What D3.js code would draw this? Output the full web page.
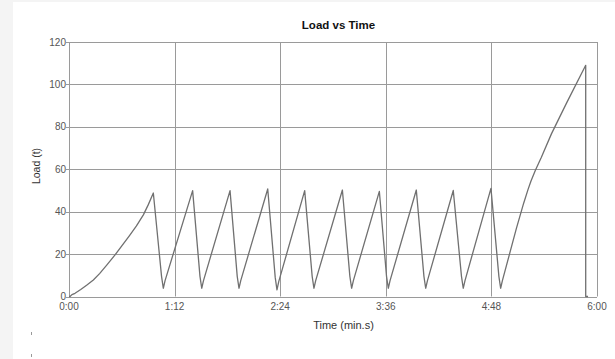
<!DOCTYPE html>
<html>
<head>
<meta charset="utf-8">
<script src="https://cdn.jsdelivr.net/npm/d3@7"></script>
<style>
  html, body { margin: 0; padding: 0; background: #f4f4f4; }
  svg { display: block; }
</style>
</head>
<body>
<svg id="chart" width="615" height="359"></svg>
<script>
// Load test record: time in seconds, load in tonnes
const timeSec = [
  0, 0.7, 2, 4.1, 8, 12, 16.6, 21, 26, 31.4, 36, 41, 46, 50.7, 54, 57.5,
  63.1, 64.3, 65.5,
  84.3, 89.3, 90.5, 91.7,
  109.8, 114.7, 115.9, 117.1,
  135.5, 140.6, 141.8, 143.0,
  160.7, 165.8, 167.0, 168.2,
  186.4, 191.5, 192.7, 193.9,
  211.6, 216.5, 217.7, 218.9,
  236.8, 242.0, 243.2, 244.4,
  262.0, 267.6, 268.8, 270.0,
  287.7, 293.1, 294.3, 295.5,
  305, 310, 313, 315, 318, 322, 329, 339.3, 352.3,
  352.3, 353.9
];
const loadT = [
  0, 0, 0.9, 1.5, 3.3, 5.3, 7.8, 10.9, 15.0, 19.6, 23.9, 28.5, 33.3, 38.5, 43.2, 48.8,
  9.5, 3.9, 7.5,
  49.9, 9.5, 3.9, 7.5,
  49.9, 9.5, 3.9, 7.5,
  50.7, 9.0, 3.1, 7.0,
  49.9, 9.5, 3.9, 7.5,
  50.2, 9.5, 3.9, 7.5,
  49.6, 9.5, 3.9, 7.5,
  50.2, 9.5, 3.9, 7.5,
  50.0, 9.5, 3.9, 7.5,
  51.0, 9.5, 3.9, 7.5,
  32, 44, 50.5, 54.5, 59.5, 65.5, 76.8, 91.3, 109,
  0, 0
];

const yTicks = [0, 20, 40, 60, 80, 100, 120];
const xTicks = [0, 72, 144, 216, 288, 360];
const xTickLabels = ["0:00", "1:12", "2:24", "3:36", "4:48", "6:00"];

const chartTitle = "Load vs Time";
const xTitle = "Time (min.s)";
const yTitle = "Load (t)";

const svg = d3.select("#chart");
const W = 615, H = 359;
const plot = { left: 69, right: 597, top: 42, bottom: 296.5 };

// white panel over the light frame
svg.append("rect")
  .attr("x", 13).attr("y", 2)
  .attr("width", W - 13).attr("height", H - 2)
  .attr("fill", "#ffffff");

const x = d3.scaleLinear().domain([0, 360]).range([plot.left, plot.right]);
const y = d3.scaleLinear().domain([0, 120]).range([plot.bottom, plot.top]);

const gridColor = "#9a9a9a";

// horizontal grid
svg.append("g")
  .selectAll("line")
  .data(yTicks)
  .join("line")
  .attr("x1", plot.left - 3)
  .attr("x2", plot.right)
  .attr("y1", d => Math.round(y(d)) + 0.5)
  .attr("y2", d => Math.round(y(d)) + 0.5)
  .attr("stroke", gridColor)
  .attr("stroke-width", 1);

// vertical grid
svg.append("g")
  .selectAll("line")
  .data(xTicks)
  .join("line")
  .attr("x1", d => Math.round(x(d)) + 0.5)
  .attr("x2", d => Math.round(x(d)) + 0.5)
  .attr("y1", plot.top)
  .attr("y2", plot.bottom)
  .attr("stroke", gridColor)
  .attr("stroke-width", 1);

// y tick labels
svg.append("g")
  .selectAll("text")
  .data(yTicks)
  .join("text")
  .attr("x", plot.left - 3)
  .attr("y", d => y(d))
  .attr("dy", "0.35em")
  .attr("text-anchor", "end")
  .attr("font-family", "'Liberation Sans', Arial, sans-serif")
  .attr("font-size", 10)
  .attr("fill", "#555")
  .text(d => d);

// x tick labels
svg.append("g")
  .selectAll("text")
  .data(xTicks)
  .join("text")
  .attr("x", d => x(d))
  .attr("y", plot.bottom + 10)
  .attr("dy", "0.35em")
  .attr("text-anchor", "middle")
  .attr("font-family", "'Liberation Sans', Arial, sans-serif")
  .attr("font-size", 10)
  .attr("fill", "#555")
  .text((d, i) => xTickLabels[i]);

// load trace
const pts = timeSec.map((t, i) => [t, loadT[i]]);
svg.append("path")
  .datum(pts)
  .attr("fill", "none")
  .attr("stroke", "#707070")
  .attr("stroke-width", 1.3)
  .attr("stroke-linejoin", "round")
  .attr("d", d3.line().x(d => x(d[0])).y(d => y(d[1])));

// titles
svg.append("text")
  .attr("x", 338.5).attr("y", 25)
  .attr("dy", "0.35em")
  .attr("text-anchor", "middle")
  .attr("font-family", "'Liberation Sans', Arial, sans-serif")
  .attr("font-weight", "bold")
  .attr("font-size", 11.5)
  .attr("fill", "#111")
  .text(chartTitle);

svg.append("text")
  .attr("x", 343.5).attr("y", 325.5)
  .attr("dy", "0.35em")
  .attr("text-anchor", "middle")
  .attr("font-family", "'Liberation Sans', Arial, sans-serif")
  .attr("font-size", 11)
  .attr("fill", "#333")
  .text(xTitle);

svg.append("text")
  .attr("transform", "translate(36,166) rotate(-90)")
  .attr("dy", "0.35em")
  .attr("text-anchor", "middle")
  .attr("font-family", "'Liberation Sans', Arial, sans-serif")
  .attr("font-size", 10.5)
  .attr("fill", "#333")
  .text(yTitle);

// two small marks in the lower left margin
svg.append("g")
  .selectAll("line")
  .data([332, 354])
  .join("line")
  .attr("x1", 31.5).attr("x2", 31.5)
  .attr("y1", d => d).attr("y2", d => d + 3)
  .attr("stroke", "#999")
  .attr("stroke-width", 1);
</script>
</body>
</html>
